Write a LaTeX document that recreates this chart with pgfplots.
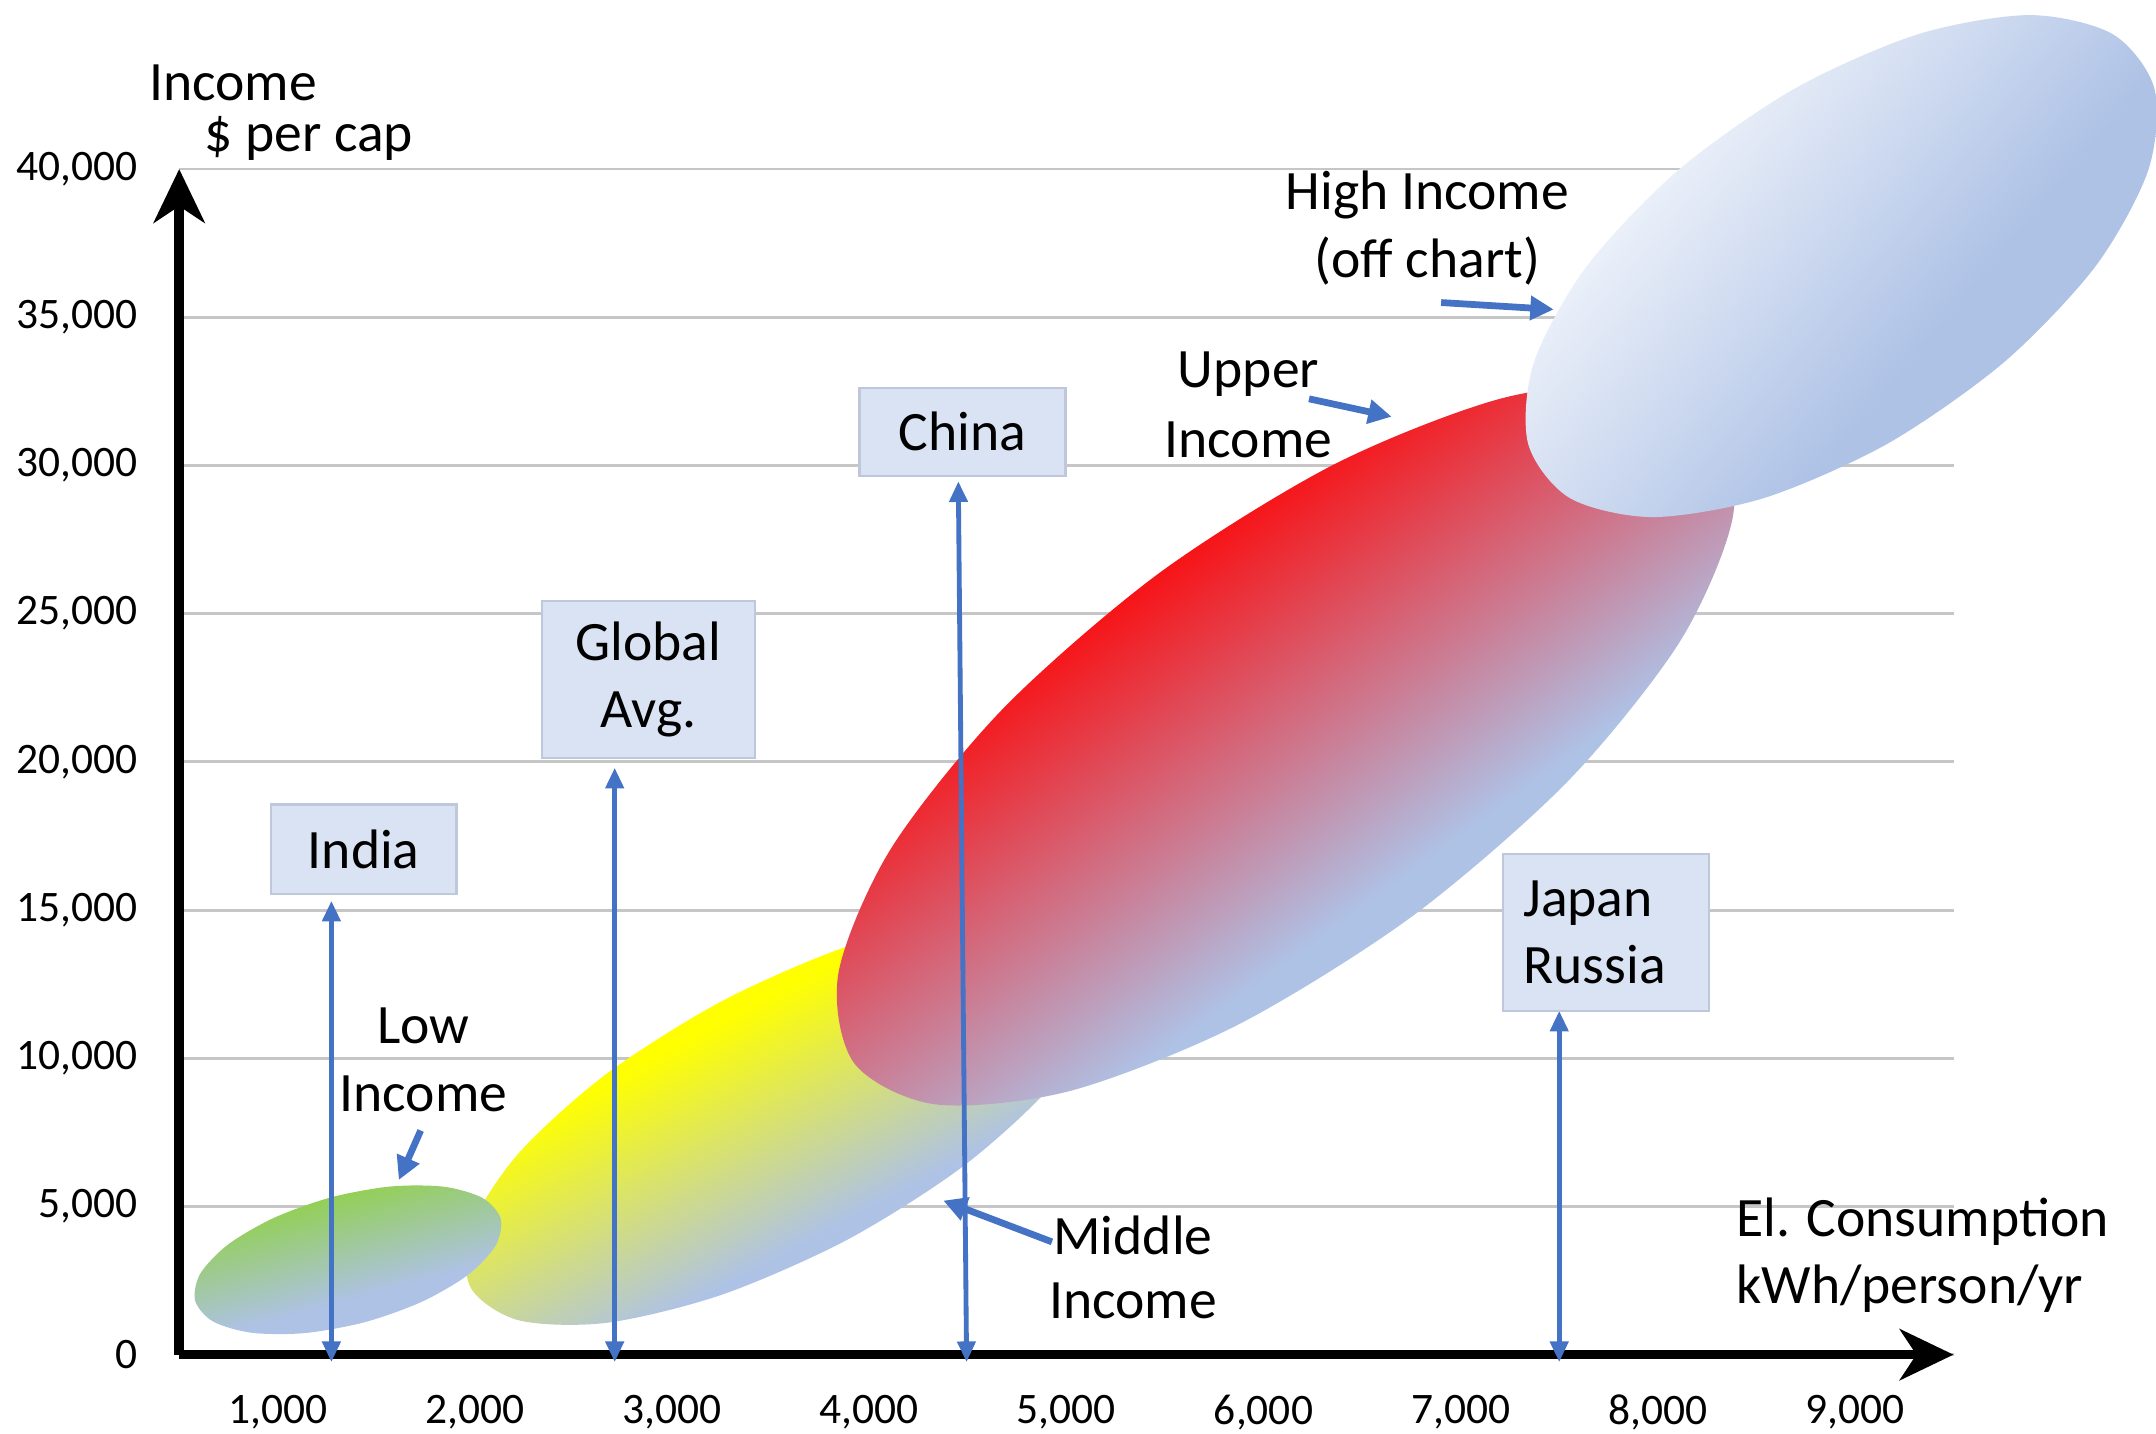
\documentclass[border=0pt]{standalone}
\usepackage{pgfplots}
\pgfplotsset{compat=1.18}
\usepackage{fontspec}
\setmainfont{Carlito}
\usetikzlibrary{arrows.meta}

\definecolor{ye}{RGB}{255,255,0}
\definecolor{gr}{RGB}{146,208,80}
\definecolor{rd}{RGB}{255,0,0}
\definecolor{wh}{RGB}{248,250,253}
\definecolor{bl}{RGB}{174,194,230}
\definecolor{bl2}{RGB}{210,221,241}
\definecolor{arr}{RGB}{68,114,196}
\definecolor{boxfill}{RGB}{218,227,243}
\definecolor{boxline}{RGB}{190,200,218}

\pgfdeclarehorizontalshading{shyel}{100bp}{color(0bp)=(ye); color(38bp)=(ye); color(62bp)=(bl); color(67bp)=(bl); color(75bp)=(bl2); color(100bp)=(bl2)}
\pgfdeclarehorizontalshading{shgrn}{100bp}{color(0bp)=(gr); color(31bp)=(gr); color(61bp)=(bl); color(67bp)=(bl); color(75bp)=(bl2); color(100bp)=(bl2)}
\pgfdeclarehorizontalshading{shred}{100bp}{color(0bp)=(rd); color(34bp)=(rd); color(61bp)=(bl); color(67bp)=(bl); color(75bp)=(bl2); color(100bp)=(bl2)}
\pgfdeclarehorizontalshading{shhigh}{100bp}{color(0bp)=(wh); color(27bp)=(wh); color(60bp)=(bl); color(67bp)=(bl); color(75bp)=(bl2); color(100bp)=(bl2)}

\begin{document}
\begin{tikzpicture}[
  lab/.style={font=\fontsize{11.5}{13.9}\selectfont, inner sep=0pt},
  box/.style={draw=boxline, fill=boxfill, line width=0.5pt, font=\fontsize{11.5}{13.9}\selectfont, inner sep=0pt},
  varr/.style={arr, line width=1pt, {Triangle[length=0.15cm,width=0.13cm]}-{Triangle[length=0.15cm,width=0.13cm]}},
  parr/.style={arr, line width=1.4pt, -{Triangle[length=0.17cm,width=0.17cm]}},
]
\begin{axis}[
  scale only axis, width=12.9cm, height=8.62cm,
  xmin=500, xmax=9500, ymin=0, ymax=40000,
  axis lines=left,
  axis line style={line width=2pt, -{Stealth[length=0.39cm,width=0.37cm,inset=0.12cm]}},
  xtick={1000,2000,...,9000}, ytick={0,5000,...,40000},
  scaled ticks=false,
  major tick length=0pt,
  ymajorgrids, grid style={gray!45, line width=0.6pt},
  tick label style={font=\fontsize{9}{10}\selectfont},
  /pgf/number format/1000 sep={,},
  /pgf/number format/assume math mode=true,
  xticklabel style={yshift=-0.17cm},
  yticklabel style={xshift=-0.18cm},
  clip=false,
]

% income groups
\addplot[draw=none, mark=none, shade, shading=shyel, shading angle=-62, smooth cycle] coordinates {
  (5156,13507) (5158,11544) (4917,9020) (4471,6329) (3888,3874) (3255,2028)
  (2670,1076) (2222,1160) (1978,2269) (1976,4232) (2216,6751) (2662,9447)
  (3246,11902) (3878,13748) (4464,14700) (4912,14616)
};
\addplot[draw=none, mark=none, shade, shading=shgrn, shading angle=-75, smooth cycle] coordinates {
  (2131,4584) (2104,3670) (1964,2687) (1730,1782) (1441,1095) (1137,728)
  (868,738) (672,1118) (581,1819) (607,2733) (748,3717) (981,4617)
  (1271,5308) (1574,5675) (1844,5665) (2039,5285)
};
\addplot[draw=none, mark=none, shade, shading=shred, shading angle=-54, smooth cycle] coordinates {
  (8302,31315) (8381,28281) (8114,24077) (7543,19340) (6754,14788) (5868,11122)
  (5018,8895) (4335,8445) (3923,9841) (3844,12876) (4111,17080) (4682,21817)
  (5471,26369) (6358,30035) (7207,32262) (7890,32712)
};
\addplot[draw=none, mark=none, shade, shading=shhigh, shading angle=-40, smooth cycle] coordinates {
  (10221,36726) (9757,33487) (9167,30740) (8540,28903) (7974,28258) (7553,28903)
  (7342,30740) (7372,33487) (7640,36726) (8104,39964) (8694,42714) (9320,44549)
  (9887,45194) (10308,44549) (10519,42714) (10488,39964)
};

% countries
\addplot[varr, mark=none] coordinates {(1272,-250) (1272,15312)};
\addplot[varr, mark=none] coordinates {(2709,-250) (2709,19800)};
\addplot[varr, mark=none] coordinates {(4494,-250) (4452,29464)};
\addplot[varr, mark=none] coordinates {(7500,-250) (7500,11600)};

\node[box, minimum width=1.35cm, minimum height=0.65cm] at (axis cs:1436,17052) {India};
\node[box, minimum width=1.55cm, minimum height=1.14cm, align=center] at (axis cs:2880,22782) {Global\\Avg.};
\node[box, minimum width=1.5cm, minimum height=0.64cm] at (axis cs:4473,31134) {China};
\node[box, minimum height=1.14cm, text width=1.2cm, inner xsep=0.15cm, align=left] at (axis cs:7737,14245) {Japan\\Russia};

% pointers
\addplot[parr, mark=none] coordinates {(6901,35496) (7472,35264)};
\addplot[parr, mark=none] coordinates {(6231,32248) (6650,31645)};
\addplot[parr, mark=none] coordinates {(1725,7563) (1614,5893)};
\addplot[parr, mark=none] coordinates {(4927,3805) (4376,5197)};

\node[lab] at (axis cs:6831,39115) {High Income};
\node[lab] at (axis cs:6831,36888) {(off chart)};
\node[lab] at (axis cs:5924,33083) {Upper};
\node[lab] at (axis cs:5924,30856) {Income};
\node[lab] at (axis cs:1739,11090) {Low};
\node[lab] at (axis cs:1739,8816) {Income};
\node[lab] at (axis cs:5338,4037) {Middle};
\node[lab] at (axis cs:5338,1810) {Income};
\node[lab, anchor=west] at (axis cs:8393,4501) {El. Consumption};
\node[lab, anchor=west] at (axis cs:8393,2227) {kWh/person/yr};
\node[lab, anchor=west] at (axis cs:344,42920) {Income};
\node[lab, anchor=west] at (axis cs:623,41018) {\$ per cap};

\coordinate (bbl) at (axis cs:-409,-2645);
\coordinate (btr) at (axis cs:10527,45704);
\end{axis}
\pgfresetboundingbox
\useasboundingbox (bbl) rectangle (btr);
\end{tikzpicture}
\end{document}
